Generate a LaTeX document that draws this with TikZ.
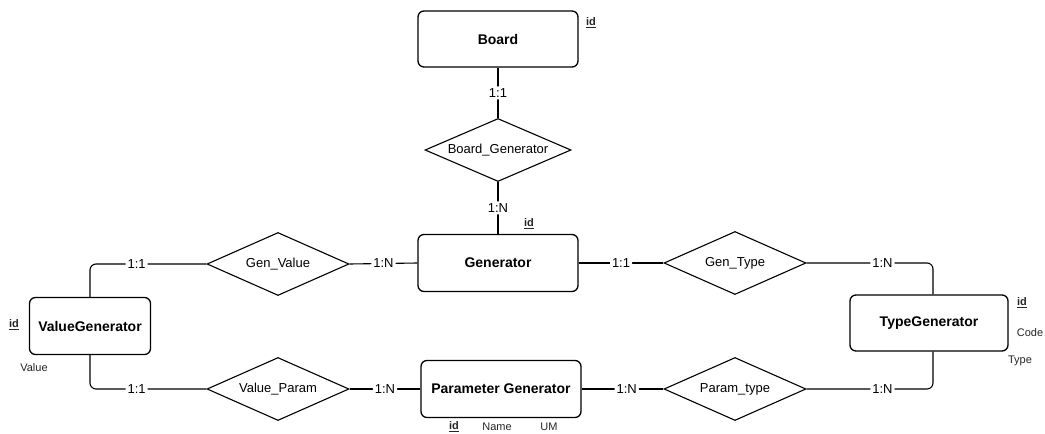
\documentclass[tikz,border=0pt]{standalone}
\usepackage{fontspec}
\setmainfont{Liberation Sans}
\usetikzlibrary{shapes.geometric}
\begin{document}
\begin{tikzpicture}[x=1pt,y=-1pt,
  entity/.style={draw,line width=1.3pt,rounded corners=6pt,inner sep=0pt,
    font=\fontsize{14}{16}\selectfont\bfseries},
  relation/.style={draw,line width=1.1pt,diamond,aspect=2.3,inner sep=0pt,
    minimum width=142pt,minimum height=63pt,font=\fontsize{13}{15}\selectfont},
  link/.style={line width=1.1pt,rounded corners=6pt},
  card/.style={fill=white,inner sep=2pt,font=\fontsize{13}{15}\selectfont},
  attr/.style={inner sep=0pt,text=black!85,font=\fontsize{11}{13}\selectfont},
  key/.style={attr,font=\fontsize{11}{13}\selectfont\bfseries}]
\useasboundingbox (0,0) rectangle (1045,434);

% entities
\node[entity,minimum width=160pt,minimum height=56pt] (board) at (498,39) {Board};
\node[entity,minimum width=160pt,minimum height=57pt] (gen) at (498,263) {Generator};
\node[entity,minimum width=121pt,minimum height=57pt] (vg) at (90,326) {ValueGenerator};
\node[entity,minimum width=160pt,minimum height=57pt] (pg) at (501,389) {Parameter Generator};
\node[entity,minimum width=158pt,minimum height=56pt] (tg) at (929,323) {TypeGenerator};

% relationships
\node[relation,minimum width=146pt] (bg) at (498,150) {Board\_Generator};
\node[relation] (gv) at (278,264) {Gen\_Value};
\node[relation] (vp) at (278,389) {Value\_Param};
\node[relation] (gt) at (735,263) {Gen\_Type};
\node[relation] (pt) at (735,389) {Param\_type};

% attributes
\node[key] (boardid) at (591,23) {\underline{id}};
\node[key] (genid) at (529,224) {\underline{id}};
\node[key] (vgid) at (14,325) {\underline{id}};
\node[attr] (vgval) at (34,368) {Value};
\node[key] (pgid) at (454,427) {\underline{id}};
\node[attr] (pgname) at (497,427) {Name};
\node[attr] (pgum) at (549,427) {UM};
\node[key] (tgid) at (1022,303) {\underline{id}};
\node[attr] (tgcode) at (1030,333) {Code};
\node[attr] (tgtype) at (1020,361) {Type};

% connectors with cardinalities
\draw[link] (board.south) -- node[card] {1:1} (bg.north);
\draw[link] (bg.south) -- node[card] {1:N} (gen.north);
\draw[link] (vg.north) |- node[card,pos=0.7] {1:1} (gv.west);
\draw[link] (gv.east) -- node[card] {1:N} (gen.west);
\draw[link] (gen.east) -- node[card] {1:1} (gt.west);
\draw[link] (gt.east) -| node[card,pos=0.3] {1:N} ([xshift=4pt]tg.north);
\draw[link] (vg.south) |- node[card,pos=0.7] {1:1} (vp.west);
\draw[link] (vp.east) -- node[card] {1:N} (pg.west);
\draw[link] (pg.east) -- node[card,pos=0.55] {1:N} (pt.west);
\draw[link] (pt.east) -| node[card,pos=0.3] {1:N} ([xshift=4pt]tg.south);
\end{tikzpicture}
\end{document}
